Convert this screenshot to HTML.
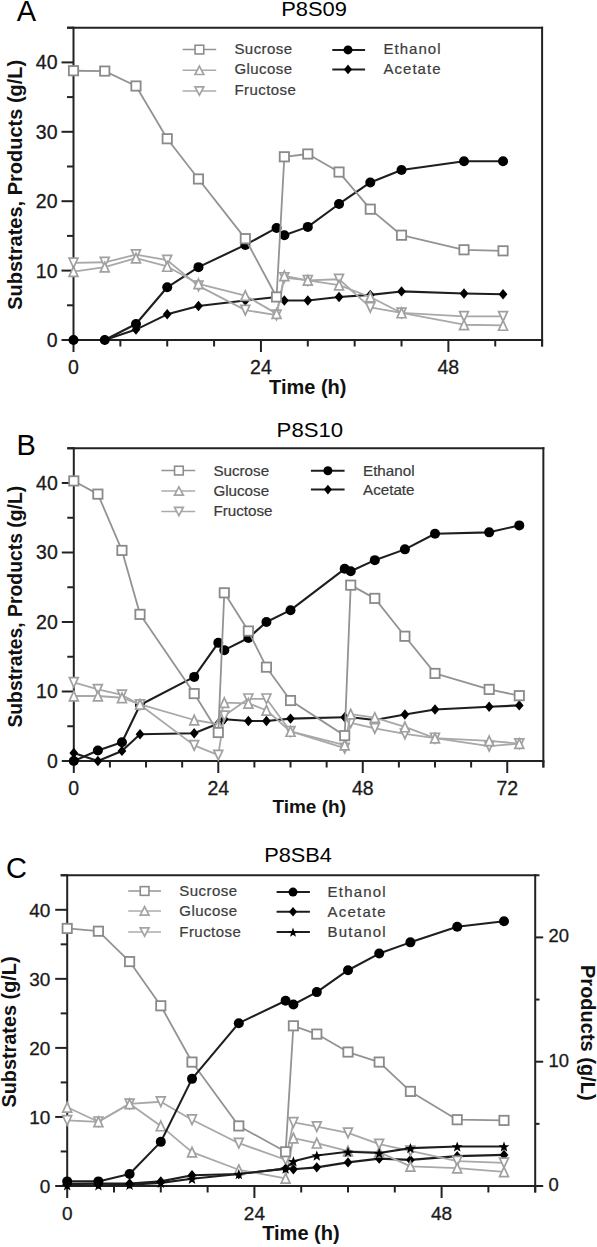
<!DOCTYPE html>
<html><head><meta charset="utf-8"><style>
html,body{margin:0;padding:0;background:#fff;}
body{width:597px;height:1247px;overflow:hidden;font-family:"Liberation Sans",sans-serif;}
svg{display:block;}
</style></head><body>
<svg width="597" height="1247" viewBox="0 0 597 1247" font-family="Liberation Sans, sans-serif">
<rect width="597" height="1247" fill="#fff"/>
<line x1="73.5" y1="26.7" x2="73.5" y2="341" stroke="#222" stroke-width="2"/>
<line x1="73.5" y1="340" x2="543.1" y2="340" stroke="#222" stroke-width="2"/>
<line x1="67" y1="27.7" x2="543.1" y2="27.7" stroke="#222" stroke-width="2"/>
<line x1="542.1" y1="26.7" x2="542.1" y2="346.5" stroke="#222" stroke-width="2"/>
<line x1="61.5" y1="340" x2="73.5" y2="340" stroke="#222" stroke-width="2"/>
<line x1="67" y1="305.3" x2="73.5" y2="305.3" stroke="#222" stroke-width="2"/>
<line x1="61.5" y1="270.6" x2="73.5" y2="270.6" stroke="#222" stroke-width="2"/>
<line x1="67" y1="235.9" x2="73.5" y2="235.9" stroke="#222" stroke-width="2"/>
<line x1="61.5" y1="201.2" x2="73.5" y2="201.2" stroke="#222" stroke-width="2"/>
<line x1="67" y1="166.5" x2="73.5" y2="166.5" stroke="#222" stroke-width="2"/>
<line x1="61.5" y1="131.8" x2="73.5" y2="131.8" stroke="#222" stroke-width="2"/>
<line x1="67" y1="97.1" x2="73.5" y2="97.1" stroke="#222" stroke-width="2"/>
<line x1="61.5" y1="62.4" x2="73.5" y2="62.4" stroke="#222" stroke-width="2"/>
<line x1="67" y1="27.7" x2="73.5" y2="27.7" stroke="#222" stroke-width="2"/>
<line x1="73.5" y1="340" x2="73.5" y2="352" stroke="#222" stroke-width="2"/>
<line x1="120.36" y1="340" x2="120.36" y2="346.5" stroke="#222" stroke-width="2"/>
<line x1="167.22" y1="340" x2="167.22" y2="346.5" stroke="#222" stroke-width="2"/>
<line x1="214.08" y1="340" x2="214.08" y2="346.5" stroke="#222" stroke-width="2"/>
<line x1="260.94" y1="340" x2="260.94" y2="352" stroke="#222" stroke-width="2"/>
<line x1="307.8" y1="340" x2="307.8" y2="346.5" stroke="#222" stroke-width="2"/>
<line x1="354.66" y1="340" x2="354.66" y2="346.5" stroke="#222" stroke-width="2"/>
<line x1="401.52" y1="340" x2="401.52" y2="346.5" stroke="#222" stroke-width="2"/>
<line x1="448.38" y1="340" x2="448.38" y2="352" stroke="#222" stroke-width="2"/>
<line x1="495.24" y1="340" x2="495.24" y2="346.5" stroke="#222" stroke-width="2"/>
<line x1="542.1" y1="340" x2="542.1" y2="346.5" stroke="#222" stroke-width="2"/>
<text x="57.5" y="346.92" font-size="19.5" text-anchor="end" font-weight="normal" fill="#1a1a1a" stroke="#1a1a1a" stroke-width="0.3">0</text>
<text x="57.5" y="277.52" font-size="19.5" text-anchor="end" font-weight="normal" fill="#1a1a1a" stroke="#1a1a1a" stroke-width="0.3">10</text>
<text x="57.5" y="208.12" font-size="19.5" text-anchor="end" font-weight="normal" fill="#1a1a1a" stroke="#1a1a1a" stroke-width="0.3">20</text>
<text x="57.5" y="138.72" font-size="19.5" text-anchor="end" font-weight="normal" fill="#1a1a1a" stroke="#1a1a1a" stroke-width="0.3">30</text>
<text x="57.5" y="69.32" font-size="19.5" text-anchor="end" font-weight="normal" fill="#1a1a1a" stroke="#1a1a1a" stroke-width="0.3">40</text>
<text x="73.5" y="374.2" font-size="19.5" text-anchor="middle" font-weight="normal" fill="#1a1a1a" stroke="#1a1a1a" stroke-width="0.3">0</text>
<text x="260.94" y="374.2" font-size="19.5" text-anchor="middle" font-weight="normal" fill="#1a1a1a" stroke="#1a1a1a" stroke-width="0.3">24</text>
<text x="448.38" y="374.2" font-size="19.5" text-anchor="middle" font-weight="normal" fill="#1a1a1a" stroke="#1a1a1a" stroke-width="0.3">48</text>
<polyline points="73.5,340 104.74,340 135.98,329.59 167.22,314.32 198.46,305.99 245.32,300.44 276.56,296.97 284.37,300.44 307.8,300.44 339.04,296.97 370.28,294.89 401.52,291.42 464,293.5 503.05,294.2" fill="none" stroke="#1e1e1e" stroke-width="2.1" stroke-linejoin="round"/>
<path d="M73.5 334.8L77.87 340L73.5 345.2L69.13 340Z" fill="#000"/>
<path d="M104.74 334.8L109.11 340L104.74 345.2L100.37 340Z" fill="#000"/>
<path d="M135.98 324.39L140.35 329.59L135.98 334.79L131.61 329.59Z" fill="#000"/>
<path d="M167.22 309.12L171.59 314.32L167.22 319.52L162.85 314.32Z" fill="#000"/>
<path d="M198.46 300.79L202.83 305.99L198.46 311.19L194.09 305.99Z" fill="#000"/>
<path d="M245.32 295.24L249.69 300.44L245.32 305.64L240.95 300.44Z" fill="#000"/>
<path d="M276.56 291.77L280.93 296.97L276.56 302.17L272.19 296.97Z" fill="#000"/>
<path d="M284.37 295.24L288.74 300.44L284.37 305.64L280 300.44Z" fill="#000"/>
<path d="M307.8 295.24L312.17 300.44L307.8 305.64L303.43 300.44Z" fill="#000"/>
<path d="M339.04 291.77L343.41 296.97L339.04 302.17L334.67 296.97Z" fill="#000"/>
<path d="M370.28 289.69L374.65 294.89L370.28 300.09L365.91 294.89Z" fill="#000"/>
<path d="M401.52 286.22L405.89 291.42L401.52 296.62L397.15 291.42Z" fill="#000"/>
<path d="M464 288.3L468.37 293.5L464 298.7L459.63 293.5Z" fill="#000"/>
<path d="M503.05 289L507.42 294.2L503.05 299.4L498.68 294.2Z" fill="#000"/>
<polyline points="73.5,340 104.74,340 135.98,324.04 167.22,287.26 198.46,267.13 245.32,244.92 276.56,227.92 284.37,235.21 307.8,226.88 339.04,203.98 370.28,182.46 401.52,169.97 464,161.29 503.05,161.29" fill="none" stroke="#1e1e1e" stroke-width="2.1" stroke-linejoin="round"/>
<circle cx="73.5" cy="340" r="5" fill="#000"/>
<circle cx="104.74" cy="340" r="5" fill="#000"/>
<circle cx="135.98" cy="324.04" r="5" fill="#000"/>
<circle cx="167.22" cy="287.26" r="5" fill="#000"/>
<circle cx="198.46" cy="267.13" r="5" fill="#000"/>
<circle cx="245.32" cy="244.92" r="5" fill="#000"/>
<circle cx="276.56" cy="227.92" r="5" fill="#000"/>
<circle cx="284.37" cy="235.21" r="5" fill="#000"/>
<circle cx="307.8" cy="226.88" r="5" fill="#000"/>
<circle cx="339.04" cy="203.98" r="5" fill="#000"/>
<circle cx="370.28" cy="182.46" r="5" fill="#000"/>
<circle cx="401.52" cy="169.97" r="5" fill="#000"/>
<circle cx="464" cy="161.29" r="5" fill="#000"/>
<circle cx="503.05" cy="161.29" r="5" fill="#000"/>
<polyline points="73.5,262.97 104.74,262.27 135.98,254.64 167.22,260.19 198.46,285.87 245.32,310.16 276.56,315.02 284.37,277.54 307.8,280.32 339.04,279.27 370.28,307.38 401.52,312.93 464,316.4 503.05,316.4" fill="none" stroke="#a8a8a8" stroke-width="1.8" stroke-linejoin="round"/>
<path d="M69.05 258.17L77.95 258.17L73.5 267.77Z" fill="#fff" stroke="#a0a0a0" stroke-width="1.7" stroke-linejoin="miter"/>
<path d="M100.29 257.47L109.19 257.47L104.74 267.07Z" fill="#fff" stroke="#a0a0a0" stroke-width="1.7" stroke-linejoin="miter"/>
<path d="M131.53 249.84L140.43 249.84L135.98 259.44Z" fill="#fff" stroke="#a0a0a0" stroke-width="1.7" stroke-linejoin="miter"/>
<path d="M162.77 255.39L171.67 255.39L167.22 264.99Z" fill="#fff" stroke="#a0a0a0" stroke-width="1.7" stroke-linejoin="miter"/>
<path d="M194.01 281.07L202.91 281.07L198.46 290.67Z" fill="#fff" stroke="#a0a0a0" stroke-width="1.7" stroke-linejoin="miter"/>
<path d="M240.87 305.36L249.77 305.36L245.32 314.96Z" fill="#fff" stroke="#a0a0a0" stroke-width="1.7" stroke-linejoin="miter"/>
<path d="M272.11 310.22L281.01 310.22L276.56 319.82Z" fill="#fff" stroke="#a0a0a0" stroke-width="1.7" stroke-linejoin="miter"/>
<path d="M279.92 272.74L288.82 272.74L284.37 282.34Z" fill="#fff" stroke="#a0a0a0" stroke-width="1.7" stroke-linejoin="miter"/>
<path d="M303.35 275.52L312.25 275.52L307.8 285.12Z" fill="#fff" stroke="#a0a0a0" stroke-width="1.7" stroke-linejoin="miter"/>
<path d="M334.59 274.47L343.49 274.47L339.04 284.07Z" fill="#fff" stroke="#a0a0a0" stroke-width="1.7" stroke-linejoin="miter"/>
<path d="M365.83 302.58L374.73 302.58L370.28 312.18Z" fill="#fff" stroke="#a0a0a0" stroke-width="1.7" stroke-linejoin="miter"/>
<path d="M397.07 308.13L405.97 308.13L401.52 317.73Z" fill="#fff" stroke="#a0a0a0" stroke-width="1.7" stroke-linejoin="miter"/>
<path d="M459.55 311.6L468.45 311.6L464 321.2Z" fill="#fff" stroke="#a0a0a0" stroke-width="1.7" stroke-linejoin="miter"/>
<path d="M498.6 311.6L507.5 311.6L503.05 321.2Z" fill="#fff" stroke="#a0a0a0" stroke-width="1.7" stroke-linejoin="miter"/>
<polyline points="73.5,271.64 104.74,267.13 135.98,258.11 167.22,266.44 198.46,283.79 245.32,295.58 276.56,313.63 284.37,275.81 307.8,280.32 339.04,285.17 370.28,296.97 401.52,312.93 464,324.73 503.05,325.43" fill="none" stroke="#a8a8a8" stroke-width="1.8" stroke-linejoin="round"/>
<path d="M73.5 266.84L77.95 276.44L69.05 276.44Z" fill="#fff" stroke="#a0a0a0" stroke-width="1.7" stroke-linejoin="miter"/>
<path d="M104.74 262.33L109.19 271.93L100.29 271.93Z" fill="#fff" stroke="#a0a0a0" stroke-width="1.7" stroke-linejoin="miter"/>
<path d="M135.98 253.31L140.43 262.91L131.53 262.91Z" fill="#fff" stroke="#a0a0a0" stroke-width="1.7" stroke-linejoin="miter"/>
<path d="M167.22 261.64L171.67 271.24L162.77 271.24Z" fill="#fff" stroke="#a0a0a0" stroke-width="1.7" stroke-linejoin="miter"/>
<path d="M198.46 278.99L202.91 288.59L194.01 288.59Z" fill="#fff" stroke="#a0a0a0" stroke-width="1.7" stroke-linejoin="miter"/>
<path d="M245.32 290.78L249.77 300.38L240.87 300.38Z" fill="#fff" stroke="#a0a0a0" stroke-width="1.7" stroke-linejoin="miter"/>
<path d="M276.56 308.83L281.01 318.43L272.11 318.43Z" fill="#fff" stroke="#a0a0a0" stroke-width="1.7" stroke-linejoin="miter"/>
<path d="M284.37 271L288.82 280.61L279.92 280.61Z" fill="#fff" stroke="#a0a0a0" stroke-width="1.7" stroke-linejoin="miter"/>
<path d="M307.8 275.52L312.25 285.12L303.35 285.12Z" fill="#fff" stroke="#a0a0a0" stroke-width="1.7" stroke-linejoin="miter"/>
<path d="M339.04 280.37L343.49 289.97L334.59 289.97Z" fill="#fff" stroke="#a0a0a0" stroke-width="1.7" stroke-linejoin="miter"/>
<path d="M370.28 292.17L374.73 301.77L365.83 301.77Z" fill="#fff" stroke="#a0a0a0" stroke-width="1.7" stroke-linejoin="miter"/>
<path d="M401.52 308.13L405.97 317.73L397.07 317.73Z" fill="#fff" stroke="#a0a0a0" stroke-width="1.7" stroke-linejoin="miter"/>
<path d="M464 319.93L468.45 329.53L459.55 329.53Z" fill="#fff" stroke="#a0a0a0" stroke-width="1.7" stroke-linejoin="miter"/>
<path d="M503.05 320.63L507.5 330.23L498.6 330.23Z" fill="#fff" stroke="#a0a0a0" stroke-width="1.7" stroke-linejoin="miter"/>
<polyline points="73.5,70.73 104.74,71.07 135.98,86 167.22,138.74 198.46,178.99 245.32,238.68 276.56,296.97 284.37,156.78 307.8,154.01 339.04,172.05 370.28,209.18 401.52,235.21 464,249.78 503.05,250.82" fill="none" stroke="#939393" stroke-width="1.8" stroke-linejoin="round"/>
<rect x="68.85" y="66.08" width="9.3" height="9.3" fill="#fff" stroke="#8a8a8a" stroke-width="1.8"/>
<rect x="100.09" y="66.42" width="9.3" height="9.3" fill="#fff" stroke="#8a8a8a" stroke-width="1.8"/>
<rect x="131.33" y="81.35" width="9.3" height="9.3" fill="#fff" stroke="#8a8a8a" stroke-width="1.8"/>
<rect x="162.57" y="134.09" width="9.3" height="9.3" fill="#fff" stroke="#8a8a8a" stroke-width="1.8"/>
<rect x="193.81" y="174.34" width="9.3" height="9.3" fill="#fff" stroke="#8a8a8a" stroke-width="1.8"/>
<rect x="240.67" y="234.03" width="9.3" height="9.3" fill="#fff" stroke="#8a8a8a" stroke-width="1.8"/>
<rect x="271.91" y="292.32" width="9.3" height="9.3" fill="#fff" stroke="#8a8a8a" stroke-width="1.8"/>
<rect x="279.72" y="152.13" width="9.3" height="9.3" fill="#fff" stroke="#8a8a8a" stroke-width="1.8"/>
<rect x="303.15" y="149.36" width="9.3" height="9.3" fill="#fff" stroke="#8a8a8a" stroke-width="1.8"/>
<rect x="334.39" y="167.4" width="9.3" height="9.3" fill="#fff" stroke="#8a8a8a" stroke-width="1.8"/>
<rect x="365.63" y="204.53" width="9.3" height="9.3" fill="#fff" stroke="#8a8a8a" stroke-width="1.8"/>
<rect x="396.87" y="230.56" width="9.3" height="9.3" fill="#fff" stroke="#8a8a8a" stroke-width="1.8"/>
<rect x="459.35" y="245.13" width="9.3" height="9.3" fill="#fff" stroke="#8a8a8a" stroke-width="1.8"/>
<rect x="498.4" y="246.17" width="9.3" height="9.3" fill="#fff" stroke="#8a8a8a" stroke-width="1.8"/>
<text x="16.7" y="21.3" font-size="29" text-anchor="start" font-weight="normal" fill="#000" >A</text>
<text x="281.2" y="16" font-size="21" text-anchor="start" font-weight="normal" fill="#000" textLength="65.8" lengthAdjust="spacingAndGlyphs">P8S09</text>
<line x1="182.6" y1="49.6" x2="216.2" y2="49.6" stroke="#959595" stroke-width="1.5"/>
<rect x="195.05" y="45.25" width="8.7" height="8.7" fill="#fff" stroke="#8c8c8c" stroke-width="1.6"/>
<text x="234.4" y="53.7" font-size="15" text-anchor="start" font-weight="normal" fill="#3c3c3c" letter-spacing="0.45" stroke="#3c3c3c" stroke-width="0.22">Sucrose</text>
<line x1="182.6" y1="70.3" x2="216.2" y2="70.3" stroke="#ababab" stroke-width="1.5"/>
<path d="M199.4 66.1L203.8 74.5L195 74.5Z" fill="#fff" stroke="#a4a4a4" stroke-width="1.7" stroke-linejoin="miter"/>
<text x="234.4" y="74.4" font-size="15" text-anchor="start" font-weight="normal" fill="#3c3c3c" letter-spacing="0.45" stroke="#3c3c3c" stroke-width="0.22">Glucose</text>
<line x1="182.6" y1="91" x2="216.2" y2="91" stroke="#ababab" stroke-width="1.5"/>
<path d="M195 86.8L203.8 86.8L199.4 95.2Z" fill="#fff" stroke="#a4a4a4" stroke-width="1.7" stroke-linejoin="miter"/>
<text x="234.4" y="95.1" font-size="15" text-anchor="start" font-weight="normal" fill="#3c3c3c" letter-spacing="0.45" stroke="#3c3c3c" stroke-width="0.22">Fructose</text>
<line x1="332.3" y1="49.9" x2="365.1" y2="49.9" stroke="#1e1e1e" stroke-width="2.0"/>
<circle cx="348" cy="49.9" r="4.5" fill="#000"/>
<text x="383.4" y="54" font-size="15" text-anchor="start" font-weight="normal" fill="#3c3c3c" letter-spacing="1.05" stroke="#3c3c3c" stroke-width="0.22">Ethanol</text>
<line x1="332.3" y1="69.4" x2="365.1" y2="69.4" stroke="#1e1e1e" stroke-width="2.0"/>
<path d="M348 64.6L352.03 69.4L348 74.2L343.97 69.4Z" fill="#000"/>
<text x="383.4" y="73.5" font-size="15" text-anchor="start" font-weight="normal" fill="#3c3c3c" letter-spacing="1.05" stroke="#3c3c3c" stroke-width="0.22">Acetate</text>
<text transform="translate(21.5 309.8) rotate(-90)" font-size="20" font-weight="bold" fill="#111" textLength="250" lengthAdjust="spacingAndGlyphs">Substrates, Products (g/L)</text>
<text x="307.75" y="393.6" font-size="20" font-weight="bold" fill="#111" text-anchor="middle">Time (h)</text>
<line x1="73.8" y1="447.25" x2="73.8" y2="762" stroke="#222" stroke-width="2"/>
<line x1="73.8" y1="761" x2="544.36" y2="761" stroke="#222" stroke-width="2"/>
<line x1="67.3" y1="448.25" x2="544.36" y2="448.25" stroke="#222" stroke-width="2"/>
<line x1="543.36" y1="447.25" x2="543.36" y2="767.5" stroke="#222" stroke-width="2"/>
<line x1="61.8" y1="761" x2="73.8" y2="761" stroke="#222" stroke-width="2"/>
<line x1="67.3" y1="726.25" x2="73.8" y2="726.25" stroke="#222" stroke-width="2"/>
<line x1="61.8" y1="691.5" x2="73.8" y2="691.5" stroke="#222" stroke-width="2"/>
<line x1="67.3" y1="656.75" x2="73.8" y2="656.75" stroke="#222" stroke-width="2"/>
<line x1="61.8" y1="622" x2="73.8" y2="622" stroke="#222" stroke-width="2"/>
<line x1="67.3" y1="587.25" x2="73.8" y2="587.25" stroke="#222" stroke-width="2"/>
<line x1="61.8" y1="552.5" x2="73.8" y2="552.5" stroke="#222" stroke-width="2"/>
<line x1="67.3" y1="517.75" x2="73.8" y2="517.75" stroke="#222" stroke-width="2"/>
<line x1="61.8" y1="483" x2="73.8" y2="483" stroke="#222" stroke-width="2"/>
<line x1="67.3" y1="448.25" x2="73.8" y2="448.25" stroke="#222" stroke-width="2"/>
<line x1="73.8" y1="761" x2="73.8" y2="773" stroke="#222" stroke-width="2"/>
<line x1="109.92" y1="761" x2="109.92" y2="767.5" stroke="#222" stroke-width="2"/>
<line x1="146.04" y1="761" x2="146.04" y2="767.5" stroke="#222" stroke-width="2"/>
<line x1="182.16" y1="761" x2="182.16" y2="767.5" stroke="#222" stroke-width="2"/>
<line x1="218.28" y1="761" x2="218.28" y2="773" stroke="#222" stroke-width="2"/>
<line x1="254.4" y1="761" x2="254.4" y2="767.5" stroke="#222" stroke-width="2"/>
<line x1="290.52" y1="761" x2="290.52" y2="767.5" stroke="#222" stroke-width="2"/>
<line x1="326.64" y1="761" x2="326.64" y2="767.5" stroke="#222" stroke-width="2"/>
<line x1="362.76" y1="761" x2="362.76" y2="773" stroke="#222" stroke-width="2"/>
<line x1="398.88" y1="761" x2="398.88" y2="767.5" stroke="#222" stroke-width="2"/>
<line x1="435" y1="761" x2="435" y2="767.5" stroke="#222" stroke-width="2"/>
<line x1="471.12" y1="761" x2="471.12" y2="767.5" stroke="#222" stroke-width="2"/>
<line x1="507.24" y1="761" x2="507.24" y2="773" stroke="#222" stroke-width="2"/>
<line x1="543.36" y1="761" x2="543.36" y2="767.5" stroke="#222" stroke-width="2"/>
<text x="57.8" y="767.92" font-size="19.5" text-anchor="end" font-weight="normal" fill="#1a1a1a" stroke="#1a1a1a" stroke-width="0.3">0</text>
<text x="57.8" y="698.42" font-size="19.5" text-anchor="end" font-weight="normal" fill="#1a1a1a" stroke="#1a1a1a" stroke-width="0.3">10</text>
<text x="57.8" y="628.92" font-size="19.5" text-anchor="end" font-weight="normal" fill="#1a1a1a" stroke="#1a1a1a" stroke-width="0.3">20</text>
<text x="57.8" y="559.42" font-size="19.5" text-anchor="end" font-weight="normal" fill="#1a1a1a" stroke="#1a1a1a" stroke-width="0.3">30</text>
<text x="57.8" y="489.92" font-size="19.5" text-anchor="end" font-weight="normal" fill="#1a1a1a" stroke="#1a1a1a" stroke-width="0.3">40</text>
<text x="73.8" y="795" font-size="19.5" text-anchor="middle" font-weight="normal" fill="#1a1a1a" stroke="#1a1a1a" stroke-width="0.3">0</text>
<text x="218.28" y="795" font-size="19.5" text-anchor="middle" font-weight="normal" fill="#1a1a1a" stroke="#1a1a1a" stroke-width="0.3">24</text>
<text x="362.76" y="795" font-size="19.5" text-anchor="middle" font-weight="normal" fill="#1a1a1a" stroke="#1a1a1a" stroke-width="0.3">48</text>
<text x="507.24" y="795" font-size="19.5" text-anchor="middle" font-weight="normal" fill="#1a1a1a" stroke="#1a1a1a" stroke-width="0.3">72</text>
<polyline points="73.8,761 97.88,750.58 121.96,742.24 140.02,705.05 194.2,676.9 218.28,642.85 224.3,650.15 248.38,637.99 266.44,622 290.52,610.18 344.7,568.83 350.72,571.26 374.8,560.14 404.9,549.37 435,533.74 489.18,532.35 519.28,525.39" fill="none" stroke="#1e1e1e" stroke-width="2.1" stroke-linejoin="round"/>
<circle cx="73.8" cy="761" r="5" fill="#000"/>
<circle cx="97.88" cy="750.58" r="5" fill="#000"/>
<circle cx="121.96" cy="742.24" r="5" fill="#000"/>
<circle cx="140.02" cy="705.05" r="5" fill="#000"/>
<circle cx="194.2" cy="676.9" r="5" fill="#000"/>
<circle cx="218.28" cy="642.85" r="5" fill="#000"/>
<circle cx="224.3" cy="650.15" r="5" fill="#000"/>
<circle cx="248.38" cy="637.99" r="5" fill="#000"/>
<circle cx="266.44" cy="622" r="5" fill="#000"/>
<circle cx="290.52" cy="610.18" r="5" fill="#000"/>
<circle cx="344.7" cy="568.83" r="5" fill="#000"/>
<circle cx="350.72" cy="571.26" r="5" fill="#000"/>
<circle cx="374.8" cy="560.14" r="5" fill="#000"/>
<circle cx="404.9" cy="549.37" r="5" fill="#000"/>
<circle cx="435" cy="533.74" r="5" fill="#000"/>
<circle cx="489.18" cy="532.35" r="5" fill="#000"/>
<circle cx="519.28" cy="525.39" r="5" fill="#000"/>
<polyline points="73.8,753.01 97.88,761 121.96,750.92 140.02,734.24 194.2,733.2 218.28,723.47 224.3,719.3 248.38,721.04 266.44,721.04 290.52,718.61 344.7,717.22 350.72,717.22 374.8,720 404.9,714.43 435,709.57 489.18,706.79 519.28,705.4" fill="none" stroke="#1e1e1e" stroke-width="2.1" stroke-linejoin="round"/>
<path d="M73.8 747.81L78.17 753.01L73.8 758.21L69.43 753.01Z" fill="#000"/>
<path d="M97.88 755.8L102.25 761L97.88 766.2L93.51 761Z" fill="#000"/>
<path d="M121.96 745.72L126.33 750.92L121.96 756.12L117.59 750.92Z" fill="#000"/>
<path d="M140.02 729.04L144.39 734.24L140.02 739.44L135.65 734.24Z" fill="#000"/>
<path d="M194.2 728L198.57 733.2L194.2 738.4L189.83 733.2Z" fill="#000"/>
<path d="M218.28 718.27L222.65 723.47L218.28 728.67L213.91 723.47Z" fill="#000"/>
<path d="M224.3 714.1L228.67 719.3L224.3 724.5L219.93 719.3Z" fill="#000"/>
<path d="M248.38 715.84L252.75 721.04L248.38 726.24L244.01 721.04Z" fill="#000"/>
<path d="M266.44 715.84L270.81 721.04L266.44 726.24L262.07 721.04Z" fill="#000"/>
<path d="M290.52 713.4L294.89 718.61L290.52 723.81L286.15 718.61Z" fill="#000"/>
<path d="M344.7 712.01L349.07 717.22L344.7 722.42L340.33 717.22Z" fill="#000"/>
<path d="M350.72 712.01L355.09 717.22L350.72 722.42L346.35 717.22Z" fill="#000"/>
<path d="M374.8 714.79L379.17 720L374.8 725.2L370.43 720Z" fill="#000"/>
<path d="M404.9 709.23L409.27 714.43L404.9 719.63L400.53 714.43Z" fill="#000"/>
<path d="M435 704.37L439.37 709.57L435 714.77L430.63 709.57Z" fill="#000"/>
<path d="M489.18 701.59L493.55 706.79L489.18 711.99L484.81 706.79Z" fill="#000"/>
<path d="M519.28 700.2L523.65 705.4L519.28 710.6L514.91 705.4Z" fill="#000"/>
<polyline points="73.8,682.47 97.88,689.41 121.96,694.98 140.02,704.71 194.2,745.36 218.28,755.09 224.3,715.83 248.38,698.8 266.44,698.8 290.52,731.46 344.7,748.14 350.72,722.77 374.8,728.34 404.9,733.89 435,738.07 489.18,746.06 519.28,743.62" fill="none" stroke="#a8a8a8" stroke-width="1.8" stroke-linejoin="round"/>
<path d="M69.35 677.67L78.25 677.67L73.8 687.26Z" fill="#fff" stroke="#a0a0a0" stroke-width="1.7" stroke-linejoin="miter"/>
<path d="M93.43 684.62L102.33 684.62L97.88 694.21Z" fill="#fff" stroke="#a0a0a0" stroke-width="1.7" stroke-linejoin="miter"/>
<path d="M117.51 690.18L126.41 690.18L121.96 699.77Z" fill="#fff" stroke="#a0a0a0" stroke-width="1.7" stroke-linejoin="miter"/>
<path d="M135.57 699.91L144.47 699.91L140.02 709.5Z" fill="#fff" stroke="#a0a0a0" stroke-width="1.7" stroke-linejoin="miter"/>
<path d="M189.75 740.56L198.65 740.56L194.2 750.16Z" fill="#fff" stroke="#a0a0a0" stroke-width="1.7" stroke-linejoin="miter"/>
<path d="M213.83 750.29L222.73 750.29L218.28 759.89Z" fill="#fff" stroke="#a0a0a0" stroke-width="1.7" stroke-linejoin="miter"/>
<path d="M219.85 711.03L228.75 711.03L224.3 720.62Z" fill="#fff" stroke="#a0a0a0" stroke-width="1.7" stroke-linejoin="miter"/>
<path d="M243.93 694L252.83 694L248.38 703.6Z" fill="#fff" stroke="#a0a0a0" stroke-width="1.7" stroke-linejoin="miter"/>
<path d="M261.99 694L270.89 694L266.44 703.6Z" fill="#fff" stroke="#a0a0a0" stroke-width="1.7" stroke-linejoin="miter"/>
<path d="M286.07 726.66L294.97 726.66L290.52 736.26Z" fill="#fff" stroke="#a0a0a0" stroke-width="1.7" stroke-linejoin="miter"/>
<path d="M340.25 743.34L349.15 743.34L344.7 752.94Z" fill="#fff" stroke="#a0a0a0" stroke-width="1.7" stroke-linejoin="miter"/>
<path d="M346.27 717.98L355.17 717.98L350.72 727.57Z" fill="#fff" stroke="#a0a0a0" stroke-width="1.7" stroke-linejoin="miter"/>
<path d="M370.35 723.54L379.25 723.54L374.8 733.13Z" fill="#fff" stroke="#a0a0a0" stroke-width="1.7" stroke-linejoin="miter"/>
<path d="M400.45 729.1L409.35 729.1L404.9 738.69Z" fill="#fff" stroke="#a0a0a0" stroke-width="1.7" stroke-linejoin="miter"/>
<path d="M430.55 733.27L439.45 733.27L435 742.87Z" fill="#fff" stroke="#a0a0a0" stroke-width="1.7" stroke-linejoin="miter"/>
<path d="M484.73 741.26L493.63 741.26L489.18 750.86Z" fill="#fff" stroke="#a0a0a0" stroke-width="1.7" stroke-linejoin="miter"/>
<path d="M514.83 738.83L523.73 738.83L519.28 748.42Z" fill="#fff" stroke="#a0a0a0" stroke-width="1.7" stroke-linejoin="miter"/>
<polyline points="73.8,696.02 97.88,696.02 121.96,697.75 140.02,704.36 194.2,720 218.28,724.16 224.3,702.62 248.38,703.31 266.44,710.26 290.52,731.46 344.7,745.01 350.72,714.09 374.8,717.56 404.9,726.94 435,738.07 489.18,740.85 519.28,743.62" fill="none" stroke="#a8a8a8" stroke-width="1.8" stroke-linejoin="round"/>
<path d="M73.8 691.22L78.25 700.82L69.35 700.82Z" fill="#fff" stroke="#a0a0a0" stroke-width="1.7" stroke-linejoin="miter"/>
<path d="M97.88 691.22L102.33 700.82L93.43 700.82Z" fill="#fff" stroke="#a0a0a0" stroke-width="1.7" stroke-linejoin="miter"/>
<path d="M121.96 692.96L126.41 702.55L117.51 702.55Z" fill="#fff" stroke="#a0a0a0" stroke-width="1.7" stroke-linejoin="miter"/>
<path d="M140.02 699.56L144.47 709.16L135.57 709.16Z" fill="#fff" stroke="#a0a0a0" stroke-width="1.7" stroke-linejoin="miter"/>
<path d="M194.2 715.2L198.65 724.79L189.75 724.79Z" fill="#fff" stroke="#a0a0a0" stroke-width="1.7" stroke-linejoin="miter"/>
<path d="M218.28 719.37L222.73 728.96L213.83 728.96Z" fill="#fff" stroke="#a0a0a0" stroke-width="1.7" stroke-linejoin="miter"/>
<path d="M224.3 697.82L228.75 707.42L219.85 707.42Z" fill="#fff" stroke="#a0a0a0" stroke-width="1.7" stroke-linejoin="miter"/>
<path d="M248.38 698.51L252.83 708.11L243.93 708.11Z" fill="#fff" stroke="#a0a0a0" stroke-width="1.7" stroke-linejoin="miter"/>
<path d="M266.44 705.47L270.89 715.06L261.99 715.06Z" fill="#fff" stroke="#a0a0a0" stroke-width="1.7" stroke-linejoin="miter"/>
<path d="M290.52 726.66L294.97 736.26L286.07 736.26Z" fill="#fff" stroke="#a0a0a0" stroke-width="1.7" stroke-linejoin="miter"/>
<path d="M344.7 740.22L349.15 749.81L340.25 749.81Z" fill="#fff" stroke="#a0a0a0" stroke-width="1.7" stroke-linejoin="miter"/>
<path d="M350.72 709.29L355.17 718.89L346.27 718.89Z" fill="#fff" stroke="#a0a0a0" stroke-width="1.7" stroke-linejoin="miter"/>
<path d="M374.8 712.76L379.25 722.36L370.35 722.36Z" fill="#fff" stroke="#a0a0a0" stroke-width="1.7" stroke-linejoin="miter"/>
<path d="M404.9 722.14L409.35 731.74L400.45 731.74Z" fill="#fff" stroke="#a0a0a0" stroke-width="1.7" stroke-linejoin="miter"/>
<path d="M435 733.27L439.45 742.87L430.55 742.87Z" fill="#fff" stroke="#a0a0a0" stroke-width="1.7" stroke-linejoin="miter"/>
<path d="M489.18 736.05L493.63 745.64L484.73 745.64Z" fill="#fff" stroke="#a0a0a0" stroke-width="1.7" stroke-linejoin="miter"/>
<path d="M519.28 738.83L523.73 748.42L514.83 748.42Z" fill="#fff" stroke="#a0a0a0" stroke-width="1.7" stroke-linejoin="miter"/>
<polyline points="73.8,480.92 97.88,494.12 121.96,550.41 140.02,614.36 194.2,693.59 218.28,732.5 224.3,592.81 248.38,631.03 266.44,667.17 290.52,700.53 344.7,735.63 350.72,585.16 374.8,598.37 404.9,636.25 435,673.43 489.18,689.41 519.28,695.67" fill="none" stroke="#939393" stroke-width="1.8" stroke-linejoin="round"/>
<rect x="69.15" y="476.27" width="9.3" height="9.3" fill="#fff" stroke="#8a8a8a" stroke-width="1.8"/>
<rect x="93.23" y="489.47" width="9.3" height="9.3" fill="#fff" stroke="#8a8a8a" stroke-width="1.8"/>
<rect x="117.31" y="545.76" width="9.3" height="9.3" fill="#fff" stroke="#8a8a8a" stroke-width="1.8"/>
<rect x="135.37" y="609.71" width="9.3" height="9.3" fill="#fff" stroke="#8a8a8a" stroke-width="1.8"/>
<rect x="189.55" y="688.94" width="9.3" height="9.3" fill="#fff" stroke="#8a8a8a" stroke-width="1.8"/>
<rect x="213.63" y="727.86" width="9.3" height="9.3" fill="#fff" stroke="#8a8a8a" stroke-width="1.8"/>
<rect x="219.65" y="588.16" width="9.3" height="9.3" fill="#fff" stroke="#8a8a8a" stroke-width="1.8"/>
<rect x="243.73" y="626.38" width="9.3" height="9.3" fill="#fff" stroke="#8a8a8a" stroke-width="1.8"/>
<rect x="261.79" y="662.52" width="9.3" height="9.3" fill="#fff" stroke="#8a8a8a" stroke-width="1.8"/>
<rect x="285.87" y="695.88" width="9.3" height="9.3" fill="#fff" stroke="#8a8a8a" stroke-width="1.8"/>
<rect x="340.05" y="730.98" width="9.3" height="9.3" fill="#fff" stroke="#8a8a8a" stroke-width="1.8"/>
<rect x="346.07" y="580.51" width="9.3" height="9.3" fill="#fff" stroke="#8a8a8a" stroke-width="1.8"/>
<rect x="370.15" y="593.72" width="9.3" height="9.3" fill="#fff" stroke="#8a8a8a" stroke-width="1.8"/>
<rect x="400.25" y="631.6" width="9.3" height="9.3" fill="#fff" stroke="#8a8a8a" stroke-width="1.8"/>
<rect x="430.35" y="668.78" width="9.3" height="9.3" fill="#fff" stroke="#8a8a8a" stroke-width="1.8"/>
<rect x="484.53" y="684.76" width="9.3" height="9.3" fill="#fff" stroke="#8a8a8a" stroke-width="1.8"/>
<rect x="514.63" y="691.02" width="9.3" height="9.3" fill="#fff" stroke="#8a8a8a" stroke-width="1.8"/>
<text x="16.6" y="455.2" font-size="29" text-anchor="start" font-weight="normal" fill="#000" >B</text>
<text x="276.6" y="437" font-size="20.8" text-anchor="start" font-weight="normal" fill="#000" textLength="66.6" lengthAdjust="spacingAndGlyphs">P8S10</text>
<line x1="161.3" y1="470.6" x2="195.2" y2="470.6" stroke="#959595" stroke-width="1.5"/>
<rect x="174.55" y="466.25" width="8.7" height="8.7" fill="#fff" stroke="#8c8c8c" stroke-width="1.6"/>
<text x="213.4" y="475.5" font-size="15.2" text-anchor="start" font-weight="normal" fill="#3a3a3a" letter-spacing="0" stroke="#3a3a3a" stroke-width="0.2">Sucrose</text>
<line x1="161.3" y1="491" x2="195.2" y2="491" stroke="#ababab" stroke-width="1.5"/>
<path d="M178.9 486.8L183.3 495.2L174.5 495.2Z" fill="#fff" stroke="#a4a4a4" stroke-width="1.7" stroke-linejoin="miter"/>
<text x="213.4" y="495.9" font-size="15.2" text-anchor="start" font-weight="normal" fill="#3a3a3a" letter-spacing="0" stroke="#3a3a3a" stroke-width="0.2">Glucose</text>
<line x1="161.3" y1="511.5" x2="195.2" y2="511.5" stroke="#ababab" stroke-width="1.5"/>
<path d="M174.5 507.3L183.3 507.3L178.9 515.7Z" fill="#fff" stroke="#a4a4a4" stroke-width="1.7" stroke-linejoin="miter"/>
<text x="213.4" y="516.4" font-size="15.2" text-anchor="start" font-weight="normal" fill="#3a3a3a" letter-spacing="0" stroke="#3a3a3a" stroke-width="0.2">Fructose</text>
<line x1="310.9" y1="470.7" x2="344.6" y2="470.7" stroke="#1e1e1e" stroke-width="2.0"/>
<circle cx="327.9" cy="470.7" r="4.5" fill="#000"/>
<text x="363" y="475.6" font-size="15.2" text-anchor="start" font-weight="normal" fill="#3a3a3a" letter-spacing="0" stroke="#3a3a3a" stroke-width="0.2">Ethanol</text>
<line x1="310.9" y1="489.6" x2="344.6" y2="489.6" stroke="#1e1e1e" stroke-width="2.0"/>
<path d="M327.9 484.8L331.93 489.6L327.9 494.4L323.87 489.6Z" fill="#000"/>
<text x="363" y="494.5" font-size="15.2" text-anchor="start" font-weight="normal" fill="#3a3a3a" letter-spacing="0" stroke="#3a3a3a" stroke-width="0.2">Acetate</text>
<text transform="translate(22.2 727.6) rotate(-90)" font-size="19.4" font-weight="bold" fill="#111" textLength="241.8" lengthAdjust="spacingAndGlyphs">Substrates, Products (g/L)</text>
<text x="309.2" y="812.9" font-size="19" font-weight="bold" fill="#111" text-anchor="middle">Time (h)</text>
<line x1="67.2" y1="874.27" x2="67.2" y2="1187" stroke="#222" stroke-width="2"/>
<line x1="67.2" y1="1186" x2="536.2" y2="1186" stroke="#222" stroke-width="2"/>
<line x1="60.7" y1="875.27" x2="536.2" y2="875.27" stroke="#222" stroke-width="2"/>
<line x1="535.2" y1="874.27" x2="535.2" y2="1192.5" stroke="#222" stroke-width="2"/>
<line x1="55.2" y1="1186" x2="67.2" y2="1186" stroke="#222" stroke-width="2"/>
<line x1="60.7" y1="1151.47" x2="67.2" y2="1151.47" stroke="#222" stroke-width="2"/>
<line x1="55.2" y1="1116.95" x2="67.2" y2="1116.95" stroke="#222" stroke-width="2"/>
<line x1="60.7" y1="1082.42" x2="67.2" y2="1082.42" stroke="#222" stroke-width="2"/>
<line x1="55.2" y1="1047.9" x2="67.2" y2="1047.9" stroke="#222" stroke-width="2"/>
<line x1="60.7" y1="1013.38" x2="67.2" y2="1013.38" stroke="#222" stroke-width="2"/>
<line x1="55.2" y1="978.85" x2="67.2" y2="978.85" stroke="#222" stroke-width="2"/>
<line x1="60.7" y1="944.33" x2="67.2" y2="944.33" stroke="#222" stroke-width="2"/>
<line x1="55.2" y1="909.8" x2="67.2" y2="909.8" stroke="#222" stroke-width="2"/>
<line x1="60.7" y1="875.27" x2="67.2" y2="875.27" stroke="#222" stroke-width="2"/>
<line x1="67.2" y1="1186" x2="67.2" y2="1198" stroke="#222" stroke-width="2"/>
<line x1="114" y1="1186" x2="114" y2="1192.5" stroke="#222" stroke-width="2"/>
<line x1="160.8" y1="1186" x2="160.8" y2="1192.5" stroke="#222" stroke-width="2"/>
<line x1="207.6" y1="1186" x2="207.6" y2="1192.5" stroke="#222" stroke-width="2"/>
<line x1="254.4" y1="1186" x2="254.4" y2="1198" stroke="#222" stroke-width="2"/>
<line x1="301.2" y1="1186" x2="301.2" y2="1192.5" stroke="#222" stroke-width="2"/>
<line x1="348" y1="1186" x2="348" y2="1192.5" stroke="#222" stroke-width="2"/>
<line x1="394.8" y1="1186" x2="394.8" y2="1192.5" stroke="#222" stroke-width="2"/>
<line x1="441.6" y1="1186" x2="441.6" y2="1198" stroke="#222" stroke-width="2"/>
<line x1="488.4" y1="1186" x2="488.4" y2="1192.5" stroke="#222" stroke-width="2"/>
<line x1="535.2" y1="1186" x2="535.2" y2="1192.5" stroke="#222" stroke-width="2"/>
<text x="50.3" y="1192.74" font-size="19" text-anchor="end" font-weight="normal" fill="#1a1a1a" stroke="#1a1a1a" stroke-width="0.3">0</text>
<text x="50.3" y="1123.69" font-size="19" text-anchor="end" font-weight="normal" fill="#1a1a1a" stroke="#1a1a1a" stroke-width="0.3">10</text>
<text x="50.3" y="1054.64" font-size="19" text-anchor="end" font-weight="normal" fill="#1a1a1a" stroke="#1a1a1a" stroke-width="0.3">20</text>
<text x="50.3" y="985.6" font-size="19" text-anchor="end" font-weight="normal" fill="#1a1a1a" stroke="#1a1a1a" stroke-width="0.3">30</text>
<text x="50.3" y="916.54" font-size="19" text-anchor="end" font-weight="normal" fill="#1a1a1a" stroke="#1a1a1a" stroke-width="0.3">40</text>
<text x="67.2" y="1220.4" font-size="19" text-anchor="middle" font-weight="normal" fill="#1a1a1a" stroke="#1a1a1a" stroke-width="0.3">0</text>
<text x="254.4" y="1220.4" font-size="19" text-anchor="middle" font-weight="normal" fill="#1a1a1a" stroke="#1a1a1a" stroke-width="0.3">24</text>
<text x="441.6" y="1220.4" font-size="19" text-anchor="middle" font-weight="normal" fill="#1a1a1a" stroke="#1a1a1a" stroke-width="0.3">48</text>
<line x1="535.2" y1="1186" x2="543.2" y2="1186" stroke="#222" stroke-width="2"/>
<line x1="535.2" y1="1123.85" x2="539.5" y2="1123.85" stroke="#222" stroke-width="2"/>
<line x1="535.2" y1="1061.7" x2="543.2" y2="1061.7" stroke="#222" stroke-width="2"/>
<line x1="535.2" y1="999.55" x2="539.5" y2="999.55" stroke="#222" stroke-width="2"/>
<line x1="535.2" y1="937.4" x2="543.2" y2="937.4" stroke="#222" stroke-width="2"/>
<line x1="535.2" y1="875.25" x2="539.5" y2="875.25" stroke="#222" stroke-width="2"/>
<text x="548.5" y="1191" font-size="18.4" text-anchor="start" font-weight="normal" fill="#1a1a1a" stroke="#1a1a1a" stroke-width="0.3">0</text>
<text x="548.5" y="1066.7" font-size="18.4" text-anchor="start" font-weight="normal" fill="#1a1a1a" stroke="#1a1a1a" stroke-width="0.3">10</text>
<text x="548.5" y="942.4" font-size="18.4" text-anchor="start" font-weight="normal" fill="#1a1a1a" stroke="#1a1a1a" stroke-width="0.3">20</text>
<polyline points="67.2,1184.14 98.4,1183.51 129.6,1183.51 160.8,1181.4 192,1175.31 238.8,1174.07 285.6,1168.6 293.4,1169.22 316.8,1167.36 348,1162.38 379.2,1158.65 410.4,1159.9 457.2,1156.17 504,1154.92" fill="none" stroke="#1e1e1e" stroke-width="2.1" stroke-linejoin="round"/>
<path d="M67.2 1178.94L71.57 1184.14L67.2 1189.34L62.83 1184.14Z" fill="#000"/>
<path d="M98.4 1178.31L102.77 1183.51L98.4 1188.71L94.03 1183.51Z" fill="#000"/>
<path d="M129.6 1178.31L133.97 1183.51L129.6 1188.71L125.23 1183.51Z" fill="#000"/>
<path d="M160.8 1176.2L165.17 1181.4L160.8 1186.6L156.43 1181.4Z" fill="#000"/>
<path d="M192 1170.11L196.37 1175.31L192 1180.51L187.63 1175.31Z" fill="#000"/>
<path d="M238.8 1168.87L243.17 1174.07L238.8 1179.27L234.43 1174.07Z" fill="#000"/>
<path d="M285.6 1163.4L289.97 1168.6L285.6 1173.8L281.23 1168.6Z" fill="#000"/>
<path d="M293.4 1164.02L297.77 1169.22L293.4 1174.42L289.03 1169.22Z" fill="#000"/>
<path d="M316.8 1162.15L321.17 1167.36L316.8 1172.56L312.43 1167.36Z" fill="#000"/>
<path d="M348 1157.18L352.37 1162.38L348 1167.58L343.63 1162.38Z" fill="#000"/>
<path d="M379.2 1153.45L383.57 1158.65L379.2 1163.85L374.83 1158.65Z" fill="#000"/>
<path d="M410.4 1154.7L414.77 1159.9L410.4 1165.1L406.03 1159.9Z" fill="#000"/>
<path d="M457.2 1150.97L461.57 1156.17L457.2 1161.37L452.83 1156.17Z" fill="#000"/>
<path d="M504 1149.72L508.37 1154.92L504 1160.12L499.63 1154.92Z" fill="#000"/>
<polyline points="67.2,1120.4 98.4,1121.78 129.6,1103.83 160.8,1101.76 192,1119.71 238.8,1143.19 285.6,1159.76 293.4,1122.47 316.8,1126.62 348,1132.83 379.2,1144.22 410.4,1150.78 457.2,1161.14 504,1162.87" fill="none" stroke="#a8a8a8" stroke-width="1.8" stroke-linejoin="round"/>
<path d="M62.75 1115.6L71.65 1115.6L67.2 1125.2Z" fill="#fff" stroke="#a0a0a0" stroke-width="1.7" stroke-linejoin="miter"/>
<path d="M93.95 1116.98L102.85 1116.98L98.4 1126.58Z" fill="#fff" stroke="#a0a0a0" stroke-width="1.7" stroke-linejoin="miter"/>
<path d="M125.15 1099.03L134.05 1099.03L129.6 1108.63Z" fill="#fff" stroke="#a0a0a0" stroke-width="1.7" stroke-linejoin="miter"/>
<path d="M156.35 1096.96L165.25 1096.96L160.8 1106.56Z" fill="#fff" stroke="#a0a0a0" stroke-width="1.7" stroke-linejoin="miter"/>
<path d="M187.55 1114.91L196.45 1114.91L192 1124.51Z" fill="#fff" stroke="#a0a0a0" stroke-width="1.7" stroke-linejoin="miter"/>
<path d="M234.35 1138.39L243.25 1138.39L238.8 1147.99Z" fill="#fff" stroke="#a0a0a0" stroke-width="1.7" stroke-linejoin="miter"/>
<path d="M281.15 1154.96L290.05 1154.96L285.6 1164.56Z" fill="#fff" stroke="#a0a0a0" stroke-width="1.7" stroke-linejoin="miter"/>
<path d="M288.95 1117.67L297.85 1117.67L293.4 1127.27Z" fill="#fff" stroke="#a0a0a0" stroke-width="1.7" stroke-linejoin="miter"/>
<path d="M312.35 1121.82L321.25 1121.82L316.8 1131.42Z" fill="#fff" stroke="#a0a0a0" stroke-width="1.7" stroke-linejoin="miter"/>
<path d="M343.55 1128.03L352.45 1128.03L348 1137.63Z" fill="#fff" stroke="#a0a0a0" stroke-width="1.7" stroke-linejoin="miter"/>
<path d="M374.75 1139.42L383.65 1139.42L379.2 1149.02Z" fill="#fff" stroke="#a0a0a0" stroke-width="1.7" stroke-linejoin="miter"/>
<path d="M405.95 1145.98L414.85 1145.98L410.4 1155.58Z" fill="#fff" stroke="#a0a0a0" stroke-width="1.7" stroke-linejoin="miter"/>
<path d="M452.75 1156.34L461.65 1156.34L457.2 1165.94Z" fill="#fff" stroke="#a0a0a0" stroke-width="1.7" stroke-linejoin="miter"/>
<path d="M499.55 1158.07L508.45 1158.07L504 1167.67Z" fill="#fff" stroke="#a0a0a0" stroke-width="1.7" stroke-linejoin="miter"/>
<polyline points="67.2,1107.28 98.4,1121.78 129.6,1103.83 160.8,1125.93 192,1152.17 238.8,1169.77 285.6,1178.4 293.4,1138.01 316.8,1143.19 348,1151.13 379.2,1152.17 410.4,1166.32 457.2,1168.05 504,1171.84" fill="none" stroke="#a8a8a8" stroke-width="1.8" stroke-linejoin="round"/>
<path d="M67.2 1102.48L71.65 1112.08L62.75 1112.08Z" fill="#fff" stroke="#a0a0a0" stroke-width="1.7" stroke-linejoin="miter"/>
<path d="M98.4 1116.98L102.85 1126.58L93.95 1126.58Z" fill="#fff" stroke="#a0a0a0" stroke-width="1.7" stroke-linejoin="miter"/>
<path d="M129.6 1099.03L134.05 1108.63L125.15 1108.63Z" fill="#fff" stroke="#a0a0a0" stroke-width="1.7" stroke-linejoin="miter"/>
<path d="M160.8 1121.13L165.25 1130.73L156.35 1130.73Z" fill="#fff" stroke="#a0a0a0" stroke-width="1.7" stroke-linejoin="miter"/>
<path d="M192 1147.37L196.45 1156.97L187.55 1156.97Z" fill="#fff" stroke="#a0a0a0" stroke-width="1.7" stroke-linejoin="miter"/>
<path d="M238.8 1164.97L243.25 1174.57L234.35 1174.57Z" fill="#fff" stroke="#a0a0a0" stroke-width="1.7" stroke-linejoin="miter"/>
<path d="M285.6 1173.6L290.05 1183.2L281.15 1183.2Z" fill="#fff" stroke="#a0a0a0" stroke-width="1.7" stroke-linejoin="miter"/>
<path d="M293.4 1133.21L297.85 1142.81L288.95 1142.81Z" fill="#fff" stroke="#a0a0a0" stroke-width="1.7" stroke-linejoin="miter"/>
<path d="M316.8 1138.39L321.25 1147.99L312.35 1147.99Z" fill="#fff" stroke="#a0a0a0" stroke-width="1.7" stroke-linejoin="miter"/>
<path d="M348 1146.33L352.45 1155.93L343.55 1155.93Z" fill="#fff" stroke="#a0a0a0" stroke-width="1.7" stroke-linejoin="miter"/>
<path d="M379.2 1147.37L383.65 1156.97L374.75 1156.97Z" fill="#fff" stroke="#a0a0a0" stroke-width="1.7" stroke-linejoin="miter"/>
<path d="M410.4 1161.52L414.85 1171.12L405.95 1171.12Z" fill="#fff" stroke="#a0a0a0" stroke-width="1.7" stroke-linejoin="miter"/>
<path d="M457.2 1163.25L461.65 1172.85L452.75 1172.85Z" fill="#fff" stroke="#a0a0a0" stroke-width="1.7" stroke-linejoin="miter"/>
<path d="M504 1167.04L508.45 1176.64L499.55 1176.64Z" fill="#fff" stroke="#a0a0a0" stroke-width="1.7" stroke-linejoin="miter"/>
<polyline points="67.2,928.44 98.4,931.21 129.6,961.59 160.8,1005.78 192,1062.06 238.8,1125.93 285.6,1151.82 293.4,1025.8 316.8,1034.09 348,1052.04 379.2,1062.06 410.4,1091.4 457.2,1119.71 504,1120.4" fill="none" stroke="#939393" stroke-width="1.8" stroke-linejoin="round"/>
<rect x="62.55" y="923.79" width="9.3" height="9.3" fill="#fff" stroke="#8a8a8a" stroke-width="1.8"/>
<rect x="93.75" y="926.56" width="9.3" height="9.3" fill="#fff" stroke="#8a8a8a" stroke-width="1.8"/>
<rect x="124.95" y="956.94" width="9.3" height="9.3" fill="#fff" stroke="#8a8a8a" stroke-width="1.8"/>
<rect x="156.15" y="1001.13" width="9.3" height="9.3" fill="#fff" stroke="#8a8a8a" stroke-width="1.8"/>
<rect x="187.35" y="1057.41" width="9.3" height="9.3" fill="#fff" stroke="#8a8a8a" stroke-width="1.8"/>
<rect x="234.15" y="1121.28" width="9.3" height="9.3" fill="#fff" stroke="#8a8a8a" stroke-width="1.8"/>
<rect x="280.95" y="1147.17" width="9.3" height="9.3" fill="#fff" stroke="#8a8a8a" stroke-width="1.8"/>
<rect x="288.75" y="1021.15" width="9.3" height="9.3" fill="#fff" stroke="#8a8a8a" stroke-width="1.8"/>
<rect x="312.15" y="1029.44" width="9.3" height="9.3" fill="#fff" stroke="#8a8a8a" stroke-width="1.8"/>
<rect x="343.35" y="1047.39" width="9.3" height="9.3" fill="#fff" stroke="#8a8a8a" stroke-width="1.8"/>
<rect x="374.55" y="1057.41" width="9.3" height="9.3" fill="#fff" stroke="#8a8a8a" stroke-width="1.8"/>
<rect x="405.75" y="1086.75" width="9.3" height="9.3" fill="#fff" stroke="#8a8a8a" stroke-width="1.8"/>
<rect x="452.55" y="1115.06" width="9.3" height="9.3" fill="#fff" stroke="#8a8a8a" stroke-width="1.8"/>
<rect x="499.35" y="1115.75" width="9.3" height="9.3" fill="#fff" stroke="#8a8a8a" stroke-width="1.8"/>
<polyline points="67.2,1181.4 98.4,1181.4 129.6,1173.94 160.8,1141.87 192,1078.85 238.8,1023.17 285.6,1000.79 293.4,1004.52 316.8,992.09 348,970.22 379.2,953.56 410.4,942.37 457.2,926.83 504,921.24" fill="none" stroke="#1e1e1e" stroke-width="2.1" stroke-linejoin="round"/>
<circle cx="67.2" cy="1181.4" r="5" fill="#000"/>
<circle cx="98.4" cy="1181.4" r="5" fill="#000"/>
<circle cx="129.6" cy="1173.94" r="5" fill="#000"/>
<circle cx="160.8" cy="1141.87" r="5" fill="#000"/>
<circle cx="192" cy="1078.85" r="5" fill="#000"/>
<circle cx="238.8" cy="1023.17" r="5" fill="#000"/>
<circle cx="285.6" cy="1000.79" r="5" fill="#000"/>
<circle cx="293.4" cy="1004.52" r="5" fill="#000"/>
<circle cx="316.8" cy="992.09" r="5" fill="#000"/>
<circle cx="348" cy="970.22" r="5" fill="#000"/>
<circle cx="379.2" cy="953.56" r="5" fill="#000"/>
<circle cx="410.4" cy="942.37" r="5" fill="#000"/>
<circle cx="457.2" cy="926.83" r="5" fill="#000"/>
<circle cx="504" cy="921.24" r="5" fill="#000"/>
<polyline points="67.2,1185.38 98.4,1185.38 129.6,1184.76 160.8,1182.89 192,1178.79 238.8,1174.07 285.6,1168.6 293.4,1161.26 316.8,1155.55 348,1151.82 379.2,1153.06 410.4,1148.09 457.2,1146.47 504,1146.47" fill="none" stroke="#1e1e1e" stroke-width="2.1" stroke-linejoin="round"/>
<polygon points="67.2,1180.38 68.58,1184.08 72.53,1184.25 69.44,1186.71 70.49,1190.51 67.2,1188.33 63.91,1190.51 64.96,1186.71 61.87,1184.25 65.82,1184.08" fill="#000"/>
<polygon points="98.4,1180.38 99.78,1184.08 103.73,1184.25 100.64,1186.71 101.69,1190.51 98.4,1188.33 95.11,1190.51 96.16,1186.71 93.07,1184.25 97.02,1184.08" fill="#000"/>
<polygon points="129.6,1179.76 130.98,1183.45 134.93,1183.63 131.84,1186.08 132.89,1189.89 129.6,1187.71 126.31,1189.89 127.36,1186.08 124.27,1183.63 128.22,1183.45" fill="#000"/>
<polygon points="160.8,1177.89 162.18,1181.59 166.13,1181.76 163.04,1184.22 164.09,1188.02 160.8,1185.84 157.51,1188.02 158.56,1184.22 155.47,1181.76 159.42,1181.59" fill="#000"/>
<polygon points="192,1173.79 193.38,1177.49 197.33,1177.66 194.24,1180.12 195.29,1183.92 192,1181.74 188.71,1183.92 189.76,1180.12 186.67,1177.66 190.62,1177.49" fill="#000"/>
<polygon points="238.8,1169.07 240.18,1172.76 244.13,1172.94 241.04,1175.39 242.09,1179.2 238.8,1177.02 235.51,1179.2 236.56,1175.39 233.47,1172.94 237.42,1172.76" fill="#000"/>
<polygon points="285.6,1163.6 286.98,1167.3 290.93,1167.47 287.84,1169.92 288.89,1173.73 285.6,1171.55 282.31,1173.73 283.36,1169.92 280.27,1167.47 284.22,1167.3" fill="#000"/>
<polygon points="293.4,1156.26 294.78,1159.96 298.73,1160.13 295.64,1162.59 296.69,1166.39 293.4,1164.22 290.11,1166.39 291.16,1162.59 288.07,1160.13 292.02,1159.96" fill="#000"/>
<polygon points="316.8,1150.55 318.18,1154.24 322.13,1154.42 319.04,1156.87 320.09,1160.68 316.8,1158.5 313.51,1160.68 314.56,1156.87 311.47,1154.42 315.42,1154.24" fill="#000"/>
<polygon points="348,1146.82 349.38,1150.51 353.33,1150.69 350.24,1153.14 351.29,1156.95 348,1154.77 344.71,1156.95 345.76,1153.14 342.67,1150.69 346.62,1150.51" fill="#000"/>
<polygon points="379.2,1148.06 380.58,1151.76 384.53,1151.93 381.44,1154.39 382.49,1158.19 379.2,1156.01 375.91,1158.19 376.96,1154.39 373.87,1151.93 377.82,1151.76" fill="#000"/>
<polygon points="410.4,1143.09 411.78,1146.79 415.73,1146.96 412.64,1149.42 413.69,1153.22 410.4,1151.04 407.11,1153.22 408.16,1149.42 405.07,1146.96 409.02,1146.79" fill="#000"/>
<polygon points="457.2,1141.47 458.58,1145.17 462.53,1145.34 459.44,1147.8 460.49,1151.6 457.2,1149.42 453.91,1151.6 454.96,1147.8 451.87,1145.34 455.82,1145.17" fill="#000"/>
<polygon points="504,1141.47 505.38,1145.17 509.33,1145.34 506.24,1147.8 507.29,1151.6 504,1149.42 500.71,1151.6 501.76,1147.8 498.67,1145.34 502.62,1145.17" fill="#000"/>
<text x="6" y="878.2" font-size="29" text-anchor="start" font-weight="normal" fill="#000" >C</text>
<text x="264.2" y="862.3" font-size="20.6" text-anchor="start" font-weight="normal" fill="#000" textLength="67.8" lengthAdjust="spacingAndGlyphs">P8SB4</text>
<line x1="128.2" y1="891" x2="161" y2="891" stroke="#959595" stroke-width="1.5"/>
<rect x="140.25" y="886.65" width="8.7" height="8.7" fill="#fff" stroke="#8c8c8c" stroke-width="1.6"/>
<text x="179.3" y="895.9" font-size="15" text-anchor="start" font-weight="normal" fill="#3c3c3c" letter-spacing="0.45" stroke="#3c3c3c" stroke-width="0.22">Sucrose</text>
<line x1="128.2" y1="910.9" x2="161" y2="910.9" stroke="#ababab" stroke-width="1.5"/>
<path d="M144.6 906.7L149 915.1L140.2 915.1Z" fill="#fff" stroke="#a4a4a4" stroke-width="1.7" stroke-linejoin="miter"/>
<text x="179.3" y="915.8" font-size="15" text-anchor="start" font-weight="normal" fill="#3c3c3c" letter-spacing="0.45" stroke="#3c3c3c" stroke-width="0.22">Glucose</text>
<line x1="128.2" y1="932" x2="161" y2="932" stroke="#ababab" stroke-width="1.5"/>
<path d="M140.2 927.8L149 927.8L144.6 936.2Z" fill="#fff" stroke="#a4a4a4" stroke-width="1.7" stroke-linejoin="miter"/>
<text x="179.3" y="936.9" font-size="15" text-anchor="start" font-weight="normal" fill="#3c3c3c" letter-spacing="0.45" stroke="#3c3c3c" stroke-width="0.22">Fructose</text>
<line x1="276.6" y1="892.1" x2="309.9" y2="892.1" stroke="#1e1e1e" stroke-width="2.0"/>
<circle cx="293" cy="892.1" r="4.5" fill="#000"/>
<text x="327.6" y="897" font-size="15" text-anchor="start" font-weight="normal" fill="#3c3c3c" letter-spacing="1.2" stroke="#3c3c3c" stroke-width="0.22">Ethanol</text>
<line x1="276.6" y1="911.8" x2="309.9" y2="911.8" stroke="#1e1e1e" stroke-width="2.0"/>
<path d="M293 907L297.03 911.8L293 916.6L288.97 911.8Z" fill="#000"/>
<text x="327.6" y="916.7" font-size="15" text-anchor="start" font-weight="normal" fill="#3c3c3c" letter-spacing="1.2" stroke="#3c3c3c" stroke-width="0.22">Acetate</text>
<line x1="276.6" y1="932" x2="309.9" y2="932" stroke="#1e1e1e" stroke-width="2.0"/>
<polygon points="293,927.6 294.23,930.9 297.76,931.05 295,933.25 295.94,936.65 293,934.7 290.06,936.65 291,933.25 288.24,931.05 291.77,930.9" fill="#000"/>
<text x="327.6" y="936.9" font-size="15" text-anchor="start" font-weight="normal" fill="#3c3c3c" letter-spacing="1.2" stroke="#3c3c3c" stroke-width="0.22">Butanol</text>
<text transform="translate(16.3 1107.6) rotate(-90)" font-size="19.8" font-weight="bold" fill="#111" textLength="151.2" lengthAdjust="spacingAndGlyphs">Substrates (g/L)</text>
<text transform="translate(581.2 965) rotate(90)" font-size="19.8" font-weight="bold" fill="#111" textLength="135.6" lengthAdjust="spacingAndGlyphs">Products (g/L)</text>
<text x="300.9" y="1240.0" font-size="20" font-weight="bold" fill="#111" text-anchor="middle">Time (h)</text>
</svg>
</body></html>
